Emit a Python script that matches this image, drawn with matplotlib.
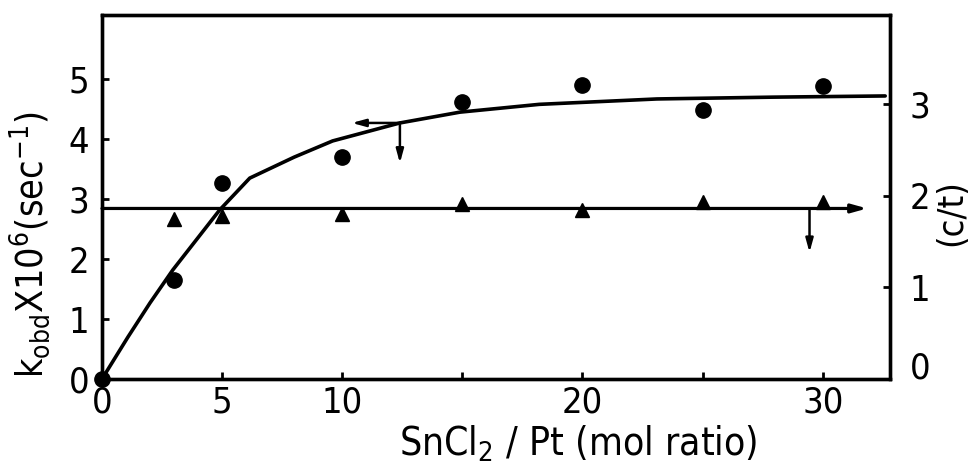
import matplotlib
matplotlib.use("Agg")
import matplotlib.pyplot as plt
from matplotlib.transforms import ScaledTranslation

plt.rcParams["font.family"] = ["DejaVu Sans"]
plt.rcParams["font.stretch"] = "condensed"
plt.rcParams["mathtext.fontset"] = "custom"
plt.rcParams["mathtext.rm"] = "DejaVu Sans:stretch=condensed"
plt.rcParams["mathtext.it"] = "DejaVu Sans:stretch=condensed"
plt.rcParams["mathtext.bf"] = "DejaVu Sans:stretch=condensed:weight=bold"

# ---- data ----
ratio = [0, 3, 5, 10, 15, 20, 25, 30]
k_obd = [0.0, 1.65, 3.27, 3.70, 4.62, 4.90, 4.48, 4.88]

ratio_ct = [3, 5, 10, 15, 20, 25, 30]
c_over_t = [1.75, 1.78, 1.80, 1.91, 1.84, 1.93, 1.93]
ct_level = 1.86

curve_x = [0, 1.08, 2.0, 2.95, 4.9, 6.15, 8.0, 9.6, 12.4, 14.9, 18.2, 23.1, 27.9, 32.6]
curve_y = [0, 0.70, 1.27, 1.82, 2.82, 3.35, 3.70, 3.97, 4.27, 4.45, 4.58, 4.67, 4.70, 4.72]

xticks = [0, 5, 10, 15, 20, 25, 30]
xticklabels = ["0", "5", "10", "", "20", "", "30"]
yticks_left = [0, 1, 2, 3, 4, 5]
yticks_right = [0, 1, 2, 3]

fig = plt.figure(figsize=(9.71, 4.66), dpi=100)
ax = fig.add_axes([102 / 971, 1 - 379 / 466, (890 - 102) / 971, (379 - 15) / 466])
ax2 = ax.twinx()

ax.set_xlim(0, 32.8)
ax.set_ylim(0, 6.07)
ax2.set_ylim(0, 3.97)

# curve and circles (left axis)
ax.plot(curve_x, curve_y, color="black", lw=2.6, solid_capstyle="round", zorder=3)
ax.plot(ratio, k_obd, "o", color="black", ms=11, zorder=4, clip_on=False)

# c/t line and triangles (right axis)
ax2.annotate("", xy=(31.85, ct_level), xytext=(0, ct_level),
             arrowprops=dict(arrowstyle="-|>,head_length=0.9,head_width=0.25",
                             color="black", lw=2.3, shrinkA=0, shrinkB=0))
ax2.plot(ratio_ct, c_over_t, "^", color="black", ms=10, zorder=4)

# indicator arrows
arr = dict(arrowstyle="-|>,head_length=0.8,head_width=0.22", color="black",
           lw=1.8, shrinkA=0, shrinkB=0)
ax.annotate("", xy=(10.4, 4.27), xytext=(12.4, 4.27), arrowprops=arr)
ax.annotate("", xy=(12.4, 3.6), xytext=(12.4, 4.27), arrowprops=arr)
ax2.annotate("", xy=(29.45, 1.38), xytext=(29.45, ct_level), arrowprops=arr)

# axes styling
for a in (ax, ax2):
    for s in a.spines.values():
        s.set_linewidth(2.4)
ax.set_xticks(xticks)
ax.set_xticklabels(xticklabels)
ax.set_yticks(yticks_left)
ax2.set_yticks(yticks_right)
ax.tick_params(axis="both", direction="in", length=5, width=2, labelsize=26)
ax.tick_params(axis="y", pad=9)
ax.tick_params(axis="x", pad=5)
ax2.tick_params(axis="y", direction="in", length=5, width=2, labelsize=26, pad=14)

lbl0 = ax2.get_yticklabels()[0]
lbl0.set_transform(lbl0.get_transform() + ScaledTranslation(0, 14 / 100, fig.dpi_scale_trans))

fig.text(578 / 971, 1 - 444 / 466, r"SnCl$_2$ / Pt (mol ratio)", ha="center", va="center",
         fontsize=28)
fig.text(30 / 971, 1 - 245 / 466, r"k$_{\mathrm{obd}}$X10$^6$(sec$^{-1}$)", rotation=90,
         ha="center", va="center", fontsize=27)
fig.text(951 / 971, 1 - 213 / 466, "(c/t)", rotation=90, ha="center", va="center",
         fontsize=26)

fig.savefig("out.png", dpi=100)
